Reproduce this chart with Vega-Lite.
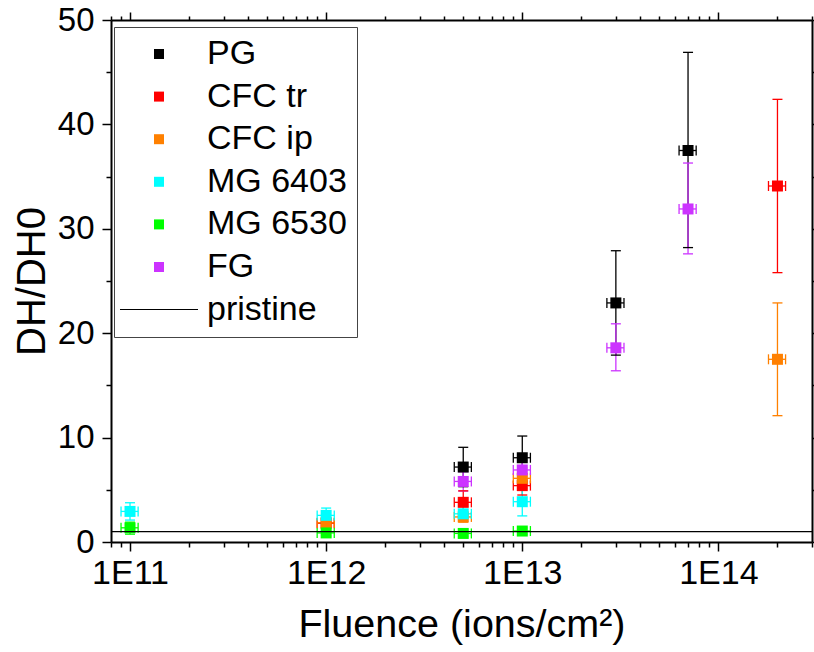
{
  "$schema": "https://vega.github.io/schema/vega-lite/v6.json",
  "width": 701,
  "height": 522,
  "autosize": {"type": "none"},
  "padding": {"left": 111, "top": 20, "right": 2, "bottom": 110},
  "background": "white",
  "config": {
    "view": {"stroke": null},
    "font": "Liberation Sans",
    "axis": {
      "grid": false,
      "domainColor": "black",
      "tickColor": "black",
      "labelColor": "black",
      "titleColor": "black",
      "labelFont": "Liberation Sans",
      "titleFont": "Liberation Sans",
      "titleFontWeight": "normal",
      "domainWidth": 2,
      "tickWidth": 1.5,
      "labelFlush": false,
      "labelOverlap": false
    }
  },
  "data": {
    "values": [
      {"series": "PG", "fluence": 5e12, "xmin": 4.5e12, "xmax": 5.5e12, "dh": 7.18, "ymin": 5.3, "ymax": 9.07},
      {"series": "PG", "fluence": 1e13, "xmin": 9e12, "xmax": 1.1e13, "dh": 8.07, "ymin": 6.0, "ymax": 10.15},
      {"series": "PG", "fluence": 3e13, "xmin": 2.7e13, "xmax": 3.3e13, "dh": 22.9, "ymin": 17.9, "ymax": 27.9},
      {"series": "PG", "fluence": 7e13, "xmin": 6.3e13, "xmax": 7.7e13, "dh": 37.5, "ymin": 28.2, "ymax": 46.9},
      {"series": "CFC tr", "fluence": 1e12, "xmin": 9e11, "xmax": 1.1e12, "dh": 1.8, "ymin": 1.45, "ymax": 2.15},
      {"series": "CFC tr", "fluence": 5e12, "xmin": 4.5e12, "xmax": 5.5e12, "dh": 3.8, "ymin": 2.7, "ymax": 4.9},
      {"series": "CFC tr", "fluence": 1e13, "xmin": 9e12, "xmax": 1.1e13, "dh": 5.4, "ymin": 4.5, "ymax": 6.3},
      {"series": "CFC tr", "fluence": 2e14, "xmin": 1.8e14, "xmax": 2.2e14, "dh": 34.1, "ymin": 25.8, "ymax": 42.4},
      {"series": "CFC ip", "fluence": 1e12, "xmin": 9e11, "xmax": 1.1e12, "dh": 1.85, "ymin": 1.5, "ymax": 2.2},
      {"series": "CFC ip", "fluence": 5e12, "xmin": 4.5e12, "xmax": 5.5e12, "dh": 2.4, "ymin": 1.9, "ymax": 2.9},
      {"series": "CFC ip", "fluence": 1e13, "xmin": 9e12, "xmax": 1.1e13, "dh": 6.1, "ymin": 5.1, "ymax": 7.1},
      {"series": "CFC ip", "fluence": 2e14, "xmin": 1.8e14, "xmax": 2.2e14, "dh": 17.5, "ymin": 12.1, "ymax": 22.9},
      {"series": "MG 6403", "fluence": 1e11, "xmin": 9e10, "xmax": 1.1e11, "dh": 2.93, "ymin": 2.1, "ymax": 3.76},
      {"series": "MG 6403", "fluence": 1e12, "xmin": 9e11, "xmax": 1.1e12, "dh": 2.55, "ymin": 1.85, "ymax": 3.25},
      {"series": "MG 6403", "fluence": 5e12, "xmin": 4.5e12, "xmax": 5.5e12, "dh": 2.7, "ymin": 2.0, "ymax": 3.4},
      {"series": "MG 6403", "fluence": 1e13, "xmin": 9e12, "xmax": 1.1e13, "dh": 3.86, "ymin": 2.5, "ymax": 5.2},
      {"series": "MG 6530", "fluence": 1e11, "xmin": 9e10, "xmax": 1.1e11, "dh": 1.36, "ymin": 0.75, "ymax": 1.9},
      {"series": "MG 6530", "fluence": 1e12, "xmin": 9e11, "xmax": 1.1e12, "dh": 0.87, "ymin": 0.57, "ymax": 1.17},
      {"series": "MG 6530", "fluence": 5e12, "xmin": 4.5e12, "xmax": 5.5e12, "dh": 0.82, "ymin": 0.52, "ymax": 1.12},
      {"series": "MG 6530", "fluence": 1e13, "xmin": 9e12, "xmax": 1.1e13, "dh": 1.05, "ymin": 0.75, "ymax": 1.35},
      {"series": "FG", "fluence": 5e12, "xmin": 4.5e12, "xmax": 5.5e12, "dh": 5.8, "ymin": 4.88, "ymax": 6.73},
      {"series": "FG", "fluence": 1e13, "xmin": 9e12, "xmax": 1.1e13, "dh": 6.9, "ymin": 6.0, "ymax": 7.8},
      {"series": "FG", "fluence": 3e13, "xmin": 2.7e13, "xmax": 3.3e13, "dh": 18.6, "ymin": 16.4, "ymax": 20.9},
      {"series": "FG", "fluence": 7e13, "xmin": 6.3e13, "xmax": 7.7e13, "dh": 31.9, "ymin": 27.6, "ymax": 36.3}
    ]
  },
  "layer": [
    {
      "mark": {"type": "rule", "strokeWidth": 1.3},
      "encoding": {
        "x": {"field": "fluence", "type": "quantitative", "scale": {"type": "log", "domain": [8e10, 3e14], "nice": false},
          "axis": {"orient": "top", "labels": false, "title": null,
            "values": [8e10, 9e10, 1e11, 2e11, 3e11, 4e11, 5e11, 6e11, 7e11, 8e11, 9e11, 1e12, 2e12, 3e12, 4e12, 5e12, 6e12, 7e12, 8e12, 9e12, 1e13, 2e13, 3e13, 4e13, 5e13, 6e13, 7e13, 8e13, 9e13, 1e14, 2e14, 3e14],
            "tickSize": {"condition": {"test": "abs(log(datum.value)/LN10 - round(log(datum.value)/LN10)) < 1e-6", "value": 8}, "value": 4}}},
        "y": {"field": "ymin", "type": "quantitative", "scale": {"domain": [0, 50], "nice": false, "zero": false},
          "axis": {"orient": "right", "labels": false, "title": null,
            "values": [0, 5, 10, 15, 20, 25, 30, 35, 40, 45, 50],
            "tickSize": {"condition": {"test": "datum.value % 10 === 0", "value": 9}, "value": 5}}},
        "y2": {"field": "ymax"},
        "stroke": {"field": "series", "type": "nominal", "legend": null,
          "scale": {"domain": ["PG", "CFC tr", "CFC ip", "MG 6403", "MG 6530", "FG"],
            "range": ["#000000", "#ff0000", "#ff8000", "#00ffff", "#00ff00", "#cc33ff"]}}
      }
    },
    {
      "mark": {"type": "rule", "strokeWidth": 1.3},
      "encoding": {
        "x": {"field": "xmin", "type": "quantitative", "axis": null},
        "x2": {"field": "xmax"},
        "y": {"field": "dh", "type": "quantitative", "axis": null},
        "stroke": {"field": "series", "type": "nominal", "legend": null}
      }
    },
    {
      "mark": {"type": "tick", "orient": "horizontal", "size": 10, "thickness": 1.3, "opacity": 1},
      "encoding": {
        "x": {"field": "fluence", "type": "quantitative", "axis": null},
        "y": {"field": "ymin", "type": "quantitative", "axis": null},
        "fill": {"field": "series", "type": "nominal", "legend": null,
          "scale": {"domain": ["PG", "CFC tr", "CFC ip", "MG 6403", "MG 6530", "FG"],
            "range": ["#000000", "#ff0000", "#ff8000", "#00ffff", "#00ff00", "#cc33ff"]}}
      }
    },
    {
      "mark": {"type": "tick", "orient": "horizontal", "size": 10, "thickness": 1.3, "opacity": 1},
      "encoding": {
        "x": {"field": "fluence", "type": "quantitative", "axis": null},
        "y": {"field": "ymax", "type": "quantitative", "axis": null},
        "fill": {"field": "series", "type": "nominal", "legend": null}
      }
    },
    {
      "mark": {"type": "tick", "orient": "vertical", "size": 10, "thickness": 1.3, "opacity": 1},
      "encoding": {
        "x": {"field": "xmin", "type": "quantitative", "axis": null},
        "y": {"field": "dh", "type": "quantitative", "axis": null},
        "fill": {"field": "series", "type": "nominal", "legend": null}
      }
    },
    {
      "mark": {"type": "tick", "orient": "vertical", "size": 10, "thickness": 1.3, "opacity": 1},
      "encoding": {
        "x": {"field": "xmax", "type": "quantitative", "axis": null},
        "y": {"field": "dh", "type": "quantitative", "axis": null},
        "fill": {"field": "series", "type": "nominal", "legend": null}
      }
    },
    {
      "mark": {"type": "point", "filled": true, "size": 121, "opacity": 1, "strokeWidth": 0},
      "encoding": {
        "x": {"field": "fluence", "type": "quantitative",
          "axis": {"orient": "bottom", "title": "Fluence (ions/cm²)",
            "values": [8e10, 9e10, 1e11, 2e11, 3e11, 4e11, 5e11, 6e11, 7e11, 8e11, 9e11, 1e12, 2e12, 3e12, 4e12, 5e12, 6e12, 7e12, 8e12, 9e12, 1e13, 2e13, 3e13, 4e13, 5e13, 6e13, 7e13, 8e13, 9e13, 1e14, 2e14, 3e14],
            "labelExpr": "abs(log(datum.value)/LN10 - round(log(datum.value)/LN10)) < 1e-6 ? '1E' + round(log(datum.value)/LN10) : ''",
            "tickSize": {"condition": {"test": "abs(log(datum.value)/LN10 - round(log(datum.value)/LN10)) < 1e-6", "value": 9}, "value": 5},
            "labelFontSize": 34, "labelPadding": 5, "titleFontSize": 39.5, "titlePadding": 15}},
        "y": {"field": "dh", "type": "quantitative",
          "axis": {"orient": "left", "title": "DH/DH0",
            "values": [0, 5, 10, 15, 20, 25, 30, 35, 40, 45, 50],
            "labelExpr": "datum.value % 10 === 0 ? datum.label : ''",
            "tickSize": {"condition": {"test": "datum.value % 10 === 0", "value": 9}, "value": 5},
            "labelFontSize": 33, "labelPadding": 8, "titleFontSize": 40, "titlePadding": 5}},
        "color": {"field": "series", "type": "nominal",
          "scale": {"domain": ["PG", "CFC tr", "CFC ip", "MG 6403", "MG 6530", "FG", "pristine"],
            "range": ["#000000", "#ff0000", "#ff8000", "#00ffff", "#00ff00", "#cc33ff", "#000000"]},
          "legend": {"title": null, "orient": "none", "legendX": 3, "legendY": 7,
            "padding": 10, "rowPadding": 8.6, "symbolOffset": 18, "labelOffset": 31,
            "symbolSize": 100, "symbolOpacity": 1, "symbolStrokeWidth": 0,
            "labelFontSize": 34, "labelFont": "Liberation Sans", "labelColor": "black", "labelLimit": 400,
            "strokeColor": "#444444", "fillColor": "white"}},
        "shape": {"field": "series", "type": "nominal",
          "scale": {"domain": ["PG", "CFC tr", "CFC ip", "MG 6403", "MG 6530", "FG", "pristine"],
            "range": ["square", "square", "square", "square", "square", "square", "M-7.8,-0.1H7.8V0.1H-7.8Z"]},
          "legend": {"title": null, "orient": "none", "legendX": 3, "legendY": 7,
            "padding": 10, "rowPadding": 8.6, "symbolOffset": 18, "labelOffset": 31,
            "symbolSize": 100, "symbolOpacity": 1, "symbolStrokeWidth": 0,
            "labelFontSize": 34, "labelFont": "Liberation Sans", "labelColor": "black", "labelLimit": 400,
            "strokeColor": "#444444", "fillColor": "white"}}
      }
    },
    {
      "data": {"values": [{"series": "pristine", "dh": 1}]},
      "mark": {"type": "rule", "strokeWidth": 1.2, "color": "black"},
      "encoding": {
        "y": {"field": "dh", "type": "quantitative", "axis": null}
      }
    }
  ],
  "resolve": {"axis": {"x": "independent", "y": "independent"}}
}
